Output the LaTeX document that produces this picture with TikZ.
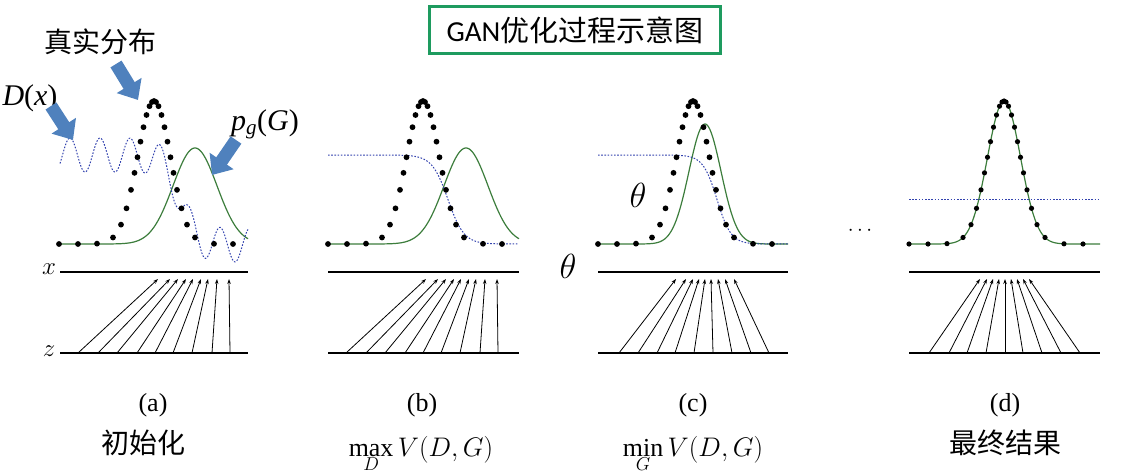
\documentclass[tikz,border=0pt]{standalone}
\usepackage{fontspec}
\setmainfont{Liberation Serif}
\newfontfamily\cjk{Noto Sans CJK SC}
\newfontfamily\titlelat{Carlito}
\usetikzlibrary{arrows.meta}
\definecolor{garrow}{HTML}{4F81BD}
\definecolor{gline}{HTML}{3C7D3C}
\definecolor{dline}{HTML}{3242AE}
\definecolor{tbox}{HTML}{1E9B5F}
\newcommand\drawreal[2]{%
  \foreach \o in {-95,-76,-57,-41,-33,-27.5,-23,-19.5,-16.5,-13.5,-10.5,-7.5,-4.5,-2,0,2,4.5,7.5,10.5,13.5,16.5,19.5,23,27.5,33,41,60,79}{%
    \fill ({#1+\o},{244-143*gd(#1+\o,#1,16.5)}) circle (#2);}}
\begin{document}
\begin{tikzpicture}[x=1pt,y=-1pt,
  declare function={gd(\t,\m,\s)=exp(-min(((\t-\m)/\s)*((\t-\m)/\s)/2,40));
                    sg(\t,\m,\s)=1/(1+exp(min((\t-\m)/\s,9)));},
  gencurve/.style={gline,line width=1.2pt},
  dcurve/.style={dline,line width=1pt,dash pattern=on 1.6pt off 1.6pt},
  axisline/.style={line width=1.4pt},
  mapline/.style={line width=0.8pt,-{Stealth[length=5pt,width=3.5pt]}},
  bigarrow/.style={garrow,line width=13pt,-{Triangle[length=17pt,width=28pt]}},
  cjklab/.style={font=\cjk\fontsize{28}{32}\selectfont},
  serlab/.style={font=\fontsize{26}{30}\selectfont},
  mathlab/.style={font=\fontsize{24}{28}\selectfont},
  caplab/.style={font=\fontsize{24}{28}\selectfont,scale=1.08,inner sep=1pt},
  thetalab/.style={font=\fontsize{24}{28}\selectfont,scale=1.4},
  titlebox/.style={draw=tbox,line width=3pt,minimum width=291pt,minimum height=47pt,inner sep=0pt}
]
\useasboundingbox (0,0) rectangle (1129,476);

% title
\node[titlebox] (title) at (575,30) {\titlelat\fontsize{29}{32}\selectfont GAN\cjk 优化过程示意图};

% ---------- panel (a) ----------
\draw[gencurve] plot[domain=60:248,samples=200] (\x,{244-96*gd(\x,195,22)});
\draw[dcurve] plot[domain=60:248,samples=300] (\x,{155+90/(1+exp(min(-(\x-180)/8,9)))-17*cos(12*(\x-70))});
\drawreal{154}{2.9}
\coordinate (axL) at (60,272); \coordinate (axR) at (248,272);
\coordinate (azL) at (60,353); \coordinate (azR) at (248,353);
\draw[axisline] (axL) -- (axR);
\draw[axisline] (azL) -- (azR);
\foreach \zz/\xx [count=\i] in {18/98,38/110,57/118,77/126,95/133,113/141,132/148,152/157,170/169}{
  \coordinate (az\i) at (60+\zz,353); \coordinate (ax\i) at (60+\xx,279);
  \draw[mapline] (az\i) -- (ax\i);}
\node[mathlab] (xlab) at (49,269) {$x$};
\node[mathlab] (zlab) at (49,351) {$z$};
\node[cjklab] (real) at (100,42) {真实分布};
\node[font=\fontsize{30}{32}\selectfont] (dlab) at (30,98) {\textit{D}(\textit{x})};
\node[font=\fontsize{30}{32}\selectfont] (pglab) at (265,124) {\textit{p}\textsubscript{\textit{g}}(\textit{G})};
\coordinate (r1) at (116,64); \coordinate (r2) at (138,100);
\coordinate (d1) at (51,106); \coordinate (d2) at (73,140);
\coordinate (p1) at (236,140); \coordinate (p2) at (212,175);
\draw[bigarrow] (r1) -- (r2);
\draw[bigarrow] (d1) -- (d2);
\draw[bigarrow] (p1) -- (p2);
\node[serlab] (capa) at (153,405) {(a)};
\node[cjklab] (capa2) at (143,443) {初始化};

% ---------- panel (b) ----------
\draw[gencurve] plot[domain=328:519,samples=200] (\x,{244-96*gd(\x,466,22)});
\draw[dcurve] plot[domain=328:519,samples=200] (\x,{244-89*sg(\x,448,8)});
\drawreal{423}{2.9}
\coordinate (bxL) at (328,272); \coordinate (bxR) at (519,272);
\coordinate (bzL) at (328,353); \coordinate (bzR) at (519,353);
\draw[axisline] (bxL) -- (bxR);
\draw[axisline] (bzL) -- (bzR);
\foreach \zz/\xx [count=\i] in {18/98,38/110,57/118,77/126,95/133,113/141,132/148,152/157,170/169}{
  \coordinate (bz\i) at (328+\zz,353); \coordinate (bx\i) at (328+\xx,279);
  \draw[mapline] (bz\i) -- (bx\i);}
\node[serlab] (capb) at (422,405) {(b)};
\node[caplab,anchor=base] (capb2) at (421,456) {$\displaystyle\max_D V(D,G)$};

% ---------- panel (c) ----------
\draw[gencurve] plot[domain=598:788,samples=200] (\x,{244-120*gd(\x,705,16)});
\draw[dcurve] plot[domain=598:788,samples=200] (\x,{244-89*sg(\x,717,7)});
\drawreal{693}{2.9}
\coordinate (cxL) at (598,272); \coordinate (cxR) at (788,272);
\coordinate (czL) at (598,353); \coordinate (czR) at (788,353);
\draw[axisline] (cxL) -- (cxR);
\draw[axisline] (czL) -- (czR);
\foreach \zz/\xx [count=\i] in {21/78,40/88,59/95,77/101,96/107,115/113,134/120,153/127,171/136}{
  \coordinate (cz\i) at (598+\zz,353); \coordinate (cx\i) at (598+\xx,279);
  \draw[mapline] (cz\i) -- (cx\i);}
\node[thetalab] (th1) at (638,195) {$\theta$};
\node[thetalab] (th2) at (568,266) {$\theta$};
\node[serlab] (capc) at (693,405) {(c)};
\node[caplab,anchor=base] (capc2) at (693,456) {$\displaystyle\min_G V(D,G)$};

% ---------- ellipsis ----------
\node[font=\fontsize{22}{24}\selectfont] (ell) at (860,231) {$\cdots$};

% ---------- panel (d) ----------
\draw[gencurve] plot[domain=909:1100,samples=200] (\x,{244-143*gd(\x,1004,16.5)});
\coordinate (dl1) at (909,199); \coordinate (dl2) at (1100,199);
\draw[dcurve] (dl1) -- (dl2);
\drawreal{1004}{2.6}
\coordinate (dxL) at (909,272); \coordinate (dxR) at (1100,272);
\coordinate (dzL) at (909,353); \coordinate (dzR) at (1100,353);
\draw[axisline] (dxL) -- (dxR);
\draw[axisline] (dzL) -- (dzR);
\foreach \zz/\xx [count=\i] in {20/71,40/78,58/84,77/90,96/96,114/102,133/108,152/114,171/120}{
  \coordinate (dz\i) at (909+\zz,353); \coordinate (dx\i) at (909+\xx,279);
  \draw[mapline] (dz\i) -- (dx\i);}
\node[serlab] (capd) at (1005,405) {(d)};
\node[cjklab] (capd2) at (1005,443) {最终结果};
\end{tikzpicture}
\end{document}
